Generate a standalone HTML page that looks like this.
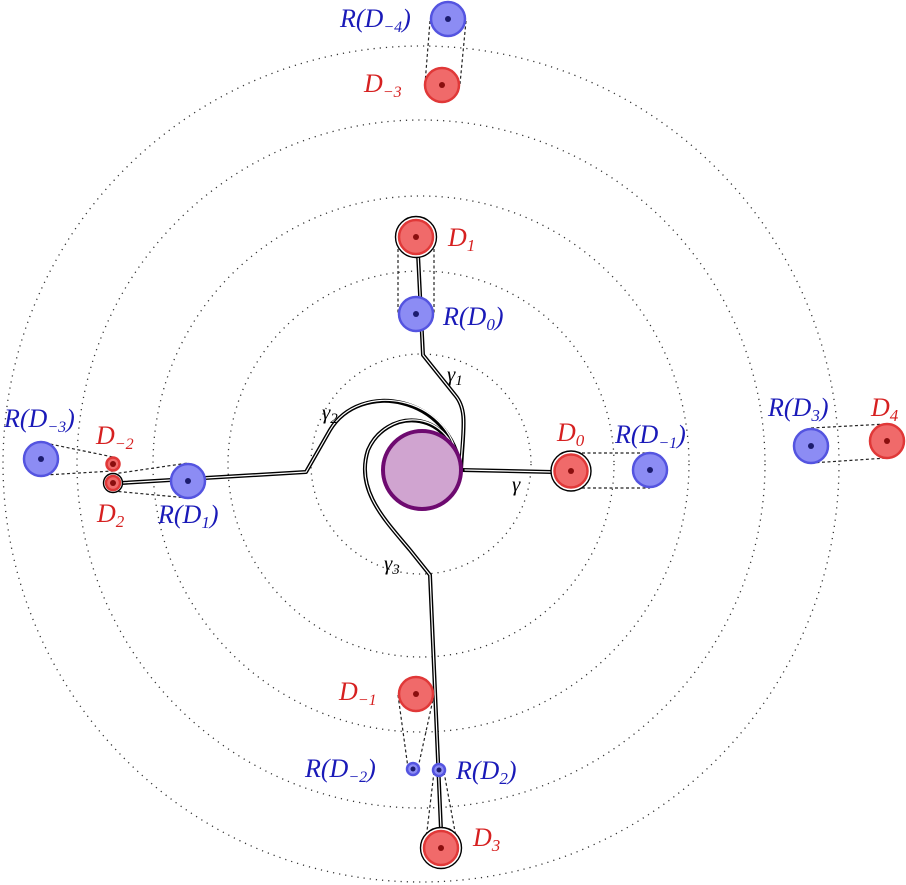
<!DOCTYPE html>
<html><head><meta charset="utf-8"><style>
html,body{margin:0;padding:0;background:#fff;}
svg{display:block;}
text{font-family:"Liberation Serif","DejaVu Serif",serif;font-style:italic;}
.lb{font-size:26px;}
.r{fill:#d62020;} .b{fill:#1a1ab8;}
.g{font-size:21px;fill:#000;}
</style></head><body>
<svg width="906" height="885" viewBox="0 0 906 885" xmlns="http://www.w3.org/2000/svg">
<g fill="none" stroke="#333" stroke-width="1.3" stroke-dasharray="1.2 5">
<circle cx="421" cy="464" r="110"/>
<circle cx="421" cy="464" r="193"/>
<circle cx="421" cy="464" r="268"/>
<circle cx="421" cy="464" r="344"/>
<circle cx="421" cy="464" r="418"/>
</g>
<g fill="none" stroke="#222" stroke-width="1.2" stroke-dasharray="3 2.5">
<line x1="430" y1="21" x2="425" y2="84"/><line x1="466" y1="21" x2="460" y2="84"/>
<line x1="398" y1="238" x2="398" y2="314"/><line x1="434" y1="238" x2="434" y2="314"/>
<line x1="571" y1="453" x2="650" y2="453"/><line x1="571" y1="488" x2="650" y2="488"/>
<line x1="811" y1="428" x2="887" y2="424"/><line x1="811" y1="463" x2="887" y2="458"/>
<line x1="45" y1="443" x2="113" y2="457"/><line x1="45" y1="475" x2="113" y2="471"/>
<line x1="113" y1="474" x2="188" y2="463"/><line x1="113" y1="491" x2="188" y2="498"/>
<line x1="398" y1="695" x2="408" y2="768"/><line x1="434" y1="695" x2="418" y2="768"/>
<line x1="434" y1="772" x2="425" y2="848"/><line x1="444" y1="772" x2="458" y2="848"/>
</g>
<g fill="none" stroke-linecap="round" stroke-linejoin="round">
<g stroke="#000" stroke-width="4">
<path d="M461,470 L553,472"/>
<path d="M461,470 C463,430 468,410 455,395 L423,355 L418,254"/>
<path d="M461,470 C450,395 360,380 330,430 L306,472 L121,483"/>
<path d="M461,470 C448,405 385,410 368,450 C355,490 385,520 410,550 L430,575 L441,830"/>
</g>
<g stroke="#fff" stroke-width="1.2">
<path d="M465,470 L553,472"/>
<path d="M461,465 C463,430 468,410 455,395 L423,355 L418,254"/>
<path d="M458,462 C450,395 360,380 330,430 L306,472 L121,483"/>
<path d="M459,465 C448,405 385,410 368,450 C355,490 385,520 410,550 L430,575 L441,830"/>
</g>
</g>
<circle cx="422" cy="470" r="39" fill="#d0a4d0" stroke="#6e0a70" stroke-width="4"/>
<g stroke="#000" stroke-width="1.4" fill="#fff">
<circle cx="416" cy="237" r="20.5"/>
<circle cx="571" cy="471" r="20"/>
<circle cx="113" cy="483" r="9.5"/>
<circle cx="441" cy="848" r="20.5"/>
</g>
<g fill="#f06a6a" stroke="#e03838" stroke-width="2.5">
<circle cx="442" cy="85" r="17"/>
<circle cx="416" cy="237" r="17"/>
<circle cx="571" cy="471" r="16.5"/>
<circle cx="887" cy="441" r="17"/>
<circle cx="113" cy="464" r="6.5"/>
<circle cx="113" cy="483" r="7"/>
<circle cx="416" cy="694" r="17"/>
<circle cx="441" cy="848" r="17"/>
</g>
<g fill="#8c8cf4" stroke="#5454e0" stroke-width="2.5">
<circle cx="448" cy="19" r="17"/>
<circle cx="416" cy="314" r="17"/>
<circle cx="650" cy="470" r="17"/>
<circle cx="811" cy="446" r="17"/>
<circle cx="41" cy="459" r="17"/>
<circle cx="188" cy="481" r="17"/>
<circle cx="413" cy="769" r="6"/>
<circle cx="439" cy="770" r="6"/>
</g>
<g fill="#8a0e0e">
<circle cx="442" cy="85" r="3"/><circle cx="416" cy="237" r="3"/><circle cx="571" cy="471" r="3"/>
<circle cx="887" cy="441" r="3"/><circle cx="113" cy="464" r="3"/><circle cx="113" cy="483" r="3"/>
<circle cx="416" cy="694" r="3"/><circle cx="441" cy="848" r="3"/>
</g>
<g fill="#1c1c6e">
<circle cx="448" cy="19" r="3"/><circle cx="416" cy="314" r="3"/><circle cx="650" cy="470" r="3"/>
<circle cx="811" cy="446" r="3"/><circle cx="41" cy="459" r="3"/><circle cx="188" cy="481" r="3"/>
<circle cx="413" cy="769" r="2.5"/><circle cx="439" cy="770" r="2.5"/>
</g>
<text class="lb b" x="340" y="27">R(D<tspan font-size="16" dy="5">−4</tspan><tspan dy="-5">)</tspan></text>
<text class="lb r" x="364" y="92">D<tspan font-size="16" dy="5">−3</tspan></text>
<text class="lb r" x="448" y="246">D<tspan font-size="17" dy="5">1</tspan></text>
<text class="lb b" x="443" y="325">R(D<tspan font-size="17" dy="5">0</tspan><tspan dy="-5">)</tspan></text>
<text class="lb r" x="557" y="441">D<tspan font-size="17" dy="5">0</tspan></text>
<text class="lb b" x="615" y="443">R(D<tspan font-size="16" dy="5">−1</tspan><tspan dy="-5">)</tspan></text>
<text class="lb b" x="768" y="416">R(D<tspan font-size="17" dy="5">3</tspan><tspan dy="-5">)</tspan></text>
<text class="lb r" x="871" y="416">D<tspan font-size="17" dy="5">4</tspan></text>
<text class="lb b" x="4" y="427">R(D<tspan font-size="16" dy="5">−3</tspan><tspan dy="-5">)</tspan></text>
<text class="lb r" x="96" y="444">D<tspan font-size="16" dy="5">−2</tspan></text>
<text class="lb r" x="97" y="522">D<tspan font-size="17" dy="5">2</tspan></text>
<text class="lb b" x="158" y="523">R(D<tspan font-size="17" dy="5">1</tspan><tspan dy="-5">)</tspan></text>
<text class="lb r" x="339" y="700">D<tspan font-size="16" dy="5">−1</tspan></text>
<text class="lb b" x="305" y="777">R(D<tspan font-size="16" dy="5">−2</tspan><tspan dy="-5">)</tspan></text>
<text class="lb b" x="456" y="779">R(D<tspan font-size="17" dy="5">2</tspan><tspan dy="-5">)</tspan></text>
<text class="lb r" x="473" y="846">D<tspan font-size="17" dy="5">3</tspan></text>
<text class="g" x="512" y="491">γ</text>
<text class="g" x="447" y="381">γ<tspan font-size="15" dy="4">1</tspan></text>
<text class="g" x="322" y="419">γ<tspan font-size="15" dy="4">2</tspan></text>
<text class="g" x="384" y="570">γ<tspan font-size="15" dy="4">3</tspan></text>
</svg>
</body></html>
